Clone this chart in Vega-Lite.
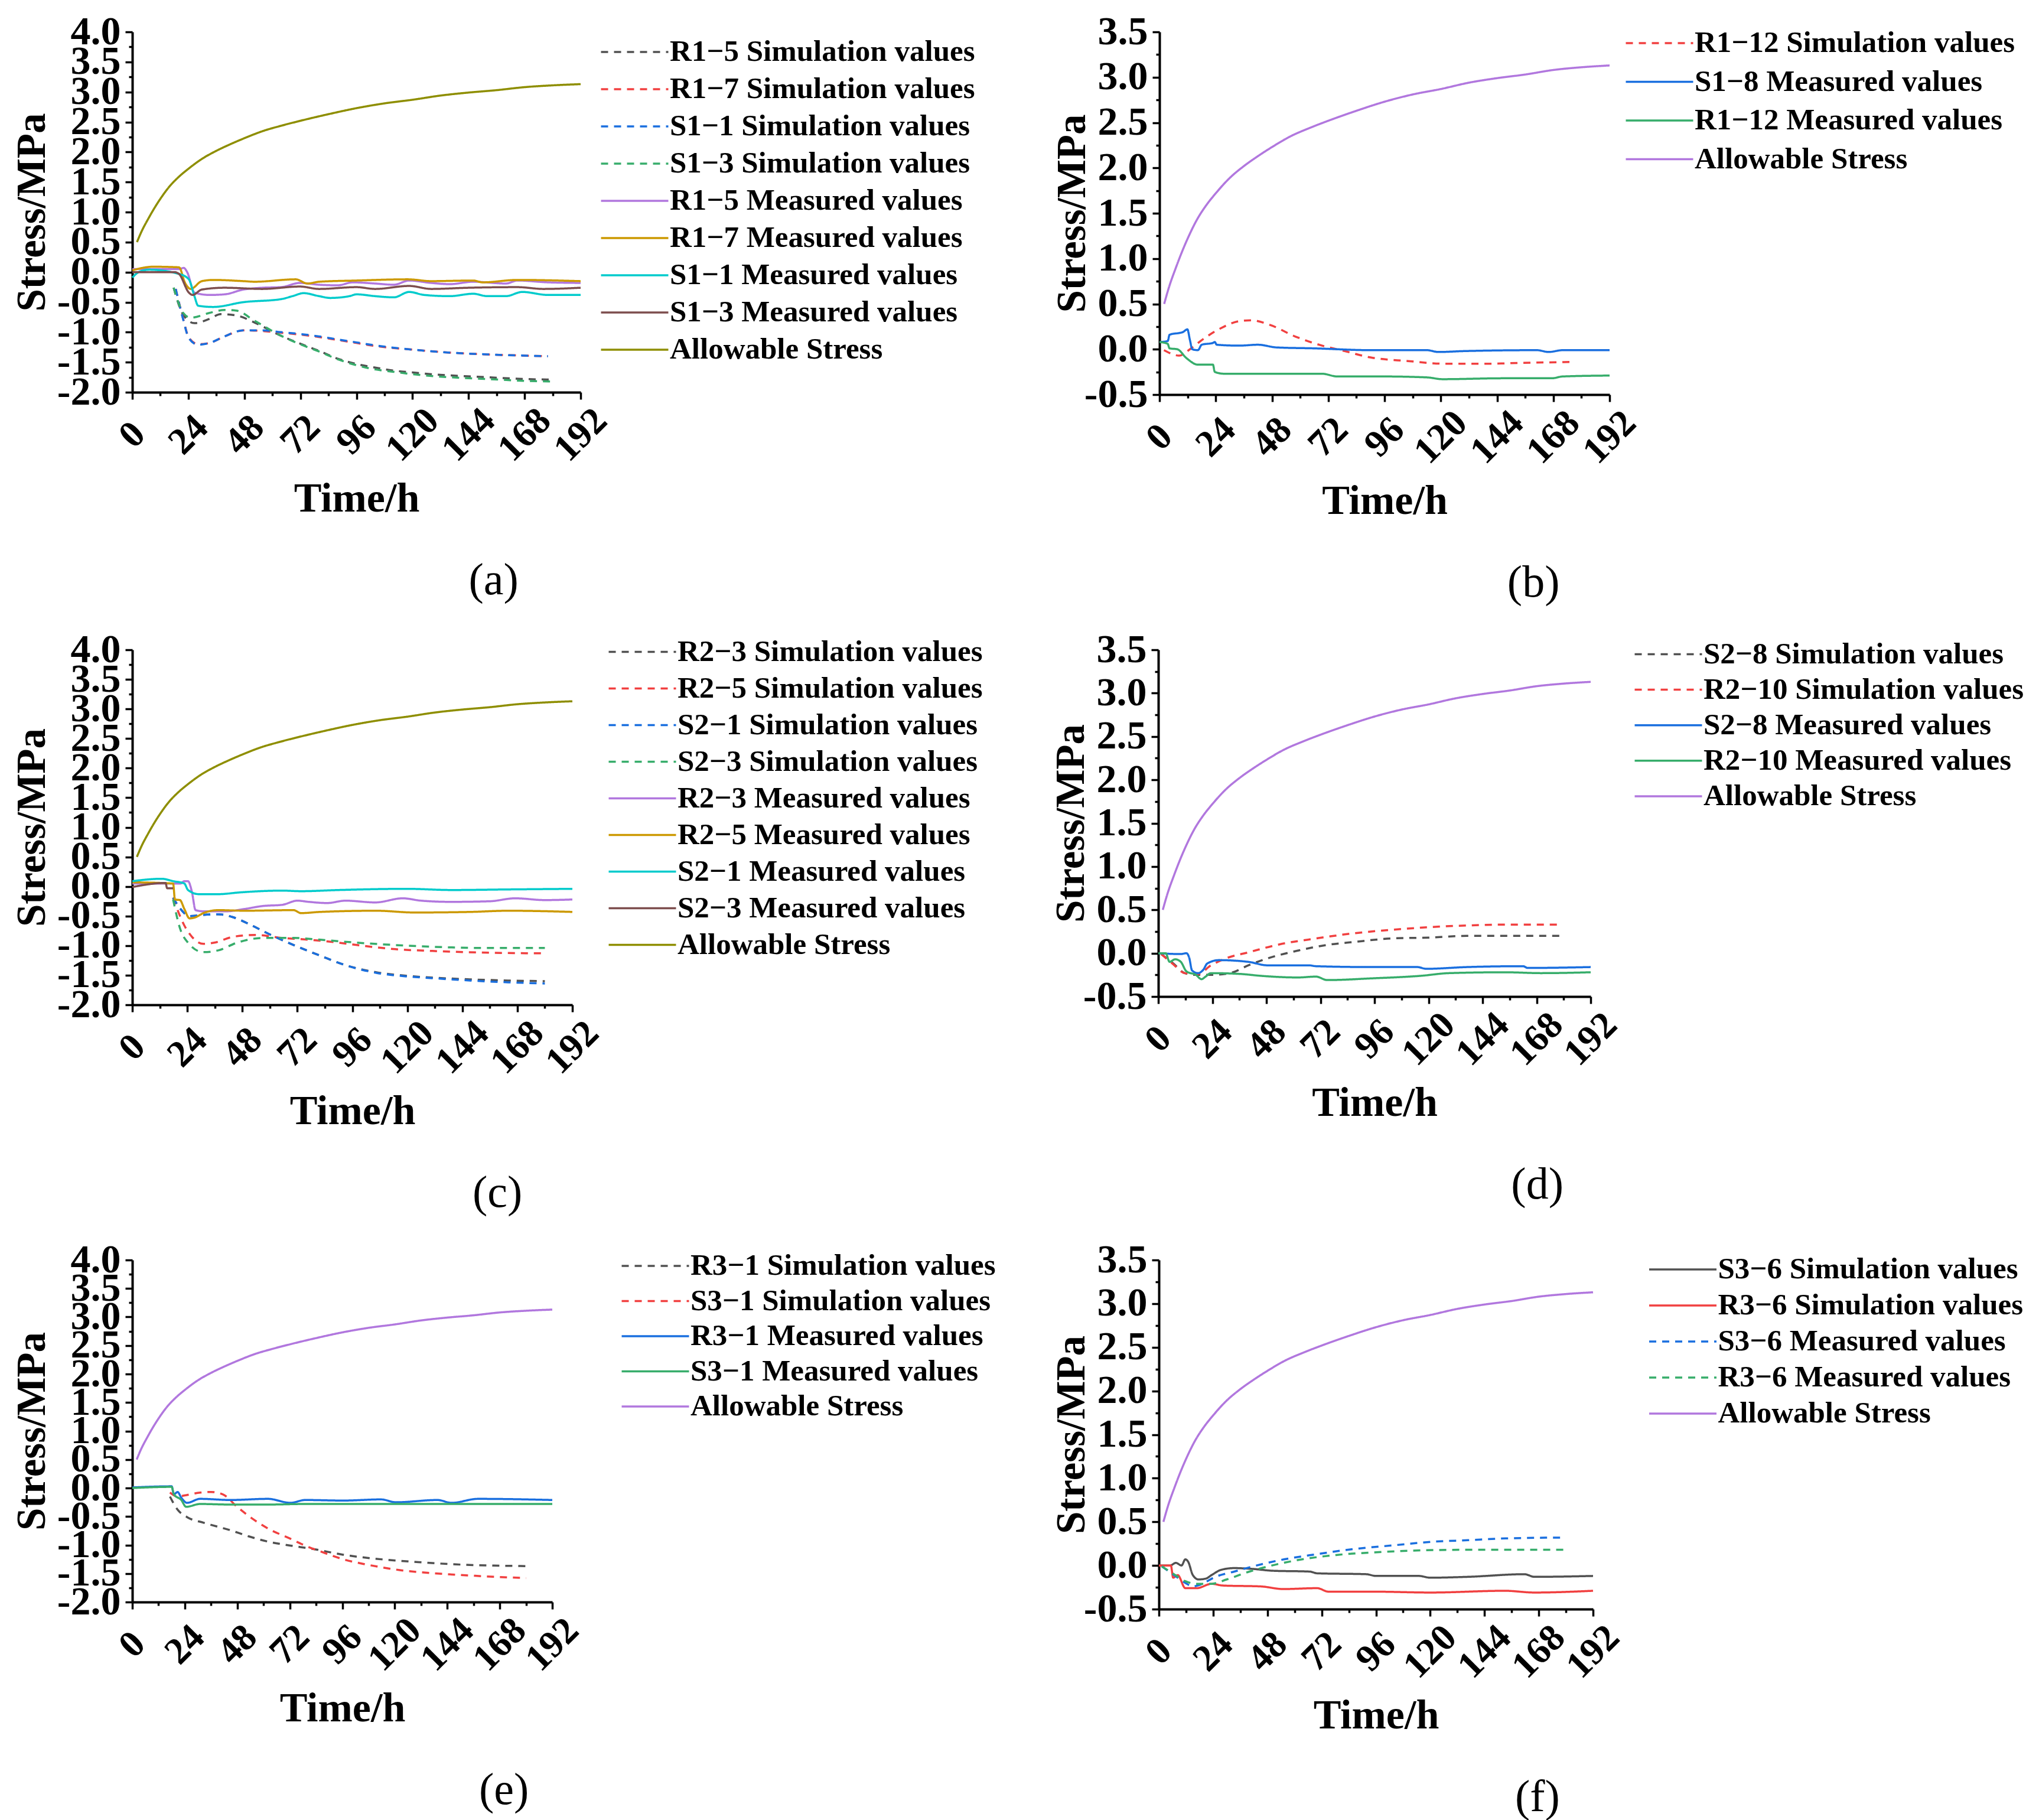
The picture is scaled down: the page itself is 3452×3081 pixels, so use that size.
{
  "$schema": "https://vega.github.io/schema/vega-lite/v6.json",
  "background": "white",
  "padding": {"left": 20, "top": 20, "right": 0, "bottom": 0},
  "datasets": {
    "allow": [
      {"s": "Allowable Stress", "t": 2, "v": 0.5},
      {"s": "Allowable Stress", "t": 4, "v": 0.68},
      {"s": "Allowable Stress", "t": 7, "v": 0.9},
      {"s": "Allowable Stress", "t": 10, "v": 1.1},
      {"s": "Allowable Stress", "t": 12, "v": 1.22},
      {"s": "Allowable Stress", "t": 16, "v": 1.43},
      {"s": "Allowable Stress", "t": 20, "v": 1.59},
      {"s": "Allowable Stress", "t": 24, "v": 1.72},
      {"s": "Allowable Stress", "t": 30, "v": 1.89},
      {"s": "Allowable Stress", "t": 36, "v": 2.02},
      {"s": "Allowable Stress", "t": 42, "v": 2.13},
      {"s": "Allowable Stress", "t": 48, "v": 2.23},
      {"s": "Allowable Stress", "t": 56, "v": 2.35},
      {"s": "Allowable Stress", "t": 64, "v": 2.44},
      {"s": "Allowable Stress", "t": 72, "v": 2.52},
      {"s": "Allowable Stress", "t": 84, "v": 2.63},
      {"s": "Allowable Stress", "t": 96, "v": 2.73},
      {"s": "Allowable Stress", "t": 108, "v": 2.81},
      {"s": "Allowable Stress", "t": 120, "v": 2.87},
      {"s": "Allowable Stress", "t": 132, "v": 2.94},
      {"s": "Allowable Stress", "t": 144, "v": 2.99},
      {"s": "Allowable Stress", "t": 156, "v": 3.03},
      {"s": "Allowable Stress", "t": 168, "v": 3.08},
      {"s": "Allowable Stress", "t": 180, "v": 3.11},
      {"s": "Allowable Stress", "t": 192, "v": 3.13}
    ],
    "a": [
      {"s": "R1−5 Simulation values", "t": 17.7, "v": -0.26},
      {"s": "R1−5 Simulation values", "t": 21.8, "v": -0.71},
      {"s": "R1−5 Simulation values", "t": 26.6, "v": -0.85},
      {"s": "R1−5 Simulation values", "t": 33, "v": -0.78},
      {"s": "R1−5 Simulation values", "t": 37.9, "v": -0.7},
      {"s": "R1−5 Simulation values", "t": 44.4, "v": -0.72},
      {"s": "R1−5 Simulation values", "t": 52.4, "v": -0.84},
      {"s": "R1−5 Simulation values", "t": 63.7, "v": -1.06},
      {"s": "R1−5 Simulation values", "t": 71.8, "v": -1.19},
      {"s": "R1−5 Simulation values", "t": 79.9, "v": -1.31},
      {"s": "R1−5 Simulation values", "t": 87.9, "v": -1.44},
      {"s": "R1−5 Simulation values", "t": 96, "v": -1.53},
      {"s": "R1−5 Simulation values", "t": 104, "v": -1.59},
      {"s": "R1−5 Simulation values", "t": 112, "v": -1.64},
      {"s": "R1−5 Simulation values", "t": 120, "v": -1.67},
      {"s": "R1−5 Simulation values", "t": 128, "v": -1.7},
      {"s": "R1−5 Simulation values", "t": 136, "v": -1.72},
      {"s": "R1−5 Simulation values", "t": 152, "v": -1.75},
      {"s": "R1−5 Simulation values", "t": 168, "v": -1.78},
      {"s": "R1−5 Simulation values", "t": 180, "v": -1.79},
      {"s": "R1−7 Simulation values", "t": 18.6, "v": -0.28},
      {"s": "R1−7 Simulation values", "t": 21.8, "v": -0.78},
      {"s": "R1−7 Simulation values", "t": 24.2, "v": -1.09},
      {"s": "R1−7 Simulation values", "t": 28.2, "v": -1.2},
      {"s": "R1−7 Simulation values", "t": 33, "v": -1.18},
      {"s": "R1−7 Simulation values", "t": 39.5, "v": -1.07},
      {"s": "R1−7 Simulation values", "t": 47.6, "v": -0.97},
      {"s": "R1−7 Simulation values", "t": 55.7, "v": -0.98},
      {"s": "R1−7 Simulation values", "t": 63.7, "v": -1.01},
      {"s": "R1−7 Simulation values", "t": 71.8, "v": -1.04},
      {"s": "R1−7 Simulation values", "t": 79.9, "v": -1.08},
      {"s": "R1−7 Simulation values", "t": 87.9, "v": -1.13},
      {"s": "R1−7 Simulation values", "t": 96, "v": -1.18},
      {"s": "R1−7 Simulation values", "t": 104, "v": -1.23},
      {"s": "R1−7 Simulation values", "t": 120, "v": -1.29},
      {"s": "R1−7 Simulation values", "t": 136, "v": -1.34},
      {"s": "R1−7 Simulation values", "t": 152, "v": -1.37},
      {"s": "R1−7 Simulation values", "t": 178, "v": -1.4},
      {"s": "S1−1 Simulation values", "t": 18.6, "v": -0.28},
      {"s": "S1−1 Simulation values", "t": 21.8, "v": -0.79},
      {"s": "S1−1 Simulation values", "t": 24.2, "v": -1.1},
      {"s": "S1−1 Simulation values", "t": 28.2, "v": -1.21},
      {"s": "S1−1 Simulation values", "t": 33, "v": -1.18},
      {"s": "S1−1 Simulation values", "t": 39.5, "v": -1.07},
      {"s": "S1−1 Simulation values", "t": 47.6, "v": -0.97},
      {"s": "S1−1 Simulation values", "t": 55.7, "v": -0.97},
      {"s": "S1−1 Simulation values", "t": 63.7, "v": -1.0},
      {"s": "S1−1 Simulation values", "t": 71.8, "v": -1.03},
      {"s": "S1−1 Simulation values", "t": 79.9, "v": -1.07},
      {"s": "S1−1 Simulation values", "t": 87.9, "v": -1.12},
      {"s": "S1−1 Simulation values", "t": 96, "v": -1.17},
      {"s": "S1−1 Simulation values", "t": 104, "v": -1.22},
      {"s": "S1−1 Simulation values", "t": 120, "v": -1.29},
      {"s": "S1−1 Simulation values", "t": 136, "v": -1.34},
      {"s": "S1−1 Simulation values", "t": 152, "v": -1.37},
      {"s": "S1−1 Simulation values", "t": 178, "v": -1.4},
      {"s": "S1−3 Simulation values", "t": 17.7, "v": -0.26},
      {"s": "S1−3 Simulation values", "t": 21.8, "v": -0.68},
      {"s": "S1−3 Simulation values", "t": 25, "v": -0.76},
      {"s": "S1−3 Simulation values", "t": 33, "v": -0.68},
      {"s": "S1−3 Simulation values", "t": 39.5, "v": -0.63},
      {"s": "S1−3 Simulation values", "t": 44.4, "v": -0.64},
      {"s": "S1−3 Simulation values", "t": 52.4, "v": -0.81},
      {"s": "S1−3 Simulation values", "t": 63.7, "v": -1.06},
      {"s": "S1−3 Simulation values", "t": 71.8, "v": -1.2},
      {"s": "S1−3 Simulation values", "t": 79.9, "v": -1.32},
      {"s": "S1−3 Simulation values", "t": 87.9, "v": -1.45},
      {"s": "S1−3 Simulation values", "t": 96, "v": -1.55},
      {"s": "S1−3 Simulation values", "t": 104, "v": -1.62},
      {"s": "S1−3 Simulation values", "t": 112, "v": -1.66},
      {"s": "S1−3 Simulation values", "t": 120, "v": -1.7},
      {"s": "S1−3 Simulation values", "t": 136, "v": -1.75},
      {"s": "S1−3 Simulation values", "t": 152, "v": -1.78},
      {"s": "S1−3 Simulation values", "t": 168, "v": -1.81},
      {"s": "S1−3 Simulation values", "t": 180, "v": -1.82},
      {"s": "R1−5 Measured values", "t": 0, "v": 0.05},
      {"s": "R1−5 Measured values", "t": 10, "v": 0.05},
      {"s": "R1−5 Measured values", "t": 20, "v": 0.05},
      {"s": "R1−5 Measured values", "t": 22, "v": 0.07},
      {"s": "R1−5 Measured values", "t": 23.5, "v": 0.0},
      {"s": "R1−5 Measured values", "t": 26.6, "v": -0.34},
      {"s": "R1−5 Measured values", "t": 33, "v": -0.38},
      {"s": "R1−5 Measured values", "t": 39.5, "v": -0.37},
      {"s": "R1−5 Measured values", "t": 47.6, "v": -0.29},
      {"s": "R1−5 Measured values", "t": 55.7, "v": -0.26},
      {"s": "R1−5 Measured values", "t": 63.7, "v": -0.25},
      {"s": "R1−5 Measured values", "t": 71.8, "v": -0.18},
      {"s": "R1−5 Measured values", "t": 80, "v": -0.21},
      {"s": "R1−5 Measured values", "t": 88, "v": -0.22},
      {"s": "R1−5 Measured values", "t": 94.4, "v": -0.17},
      {"s": "R1−5 Measured values", "t": 104, "v": -0.19},
      {"s": "R1−5 Measured values", "t": 112, "v": -0.21},
      {"s": "R1−5 Measured values", "t": 118.6, "v": -0.14},
      {"s": "R1−5 Measured values", "t": 128, "v": -0.18},
      {"s": "R1−5 Measured values", "t": 136, "v": -0.2},
      {"s": "R1−5 Measured values", "t": 146, "v": -0.16},
      {"s": "R1−5 Measured values", "t": 160, "v": -0.19},
      {"s": "R1−5 Measured values", "t": 165, "v": -0.14},
      {"s": "R1−5 Measured values", "t": 178, "v": -0.17},
      {"s": "R1−5 Measured values", "t": 192, "v": -0.18},
      {"s": "R1−7 Measured values", "t": 0, "v": 0.03},
      {"s": "R1−7 Measured values", "t": 8.9, "v": 0.09},
      {"s": "R1−7 Measured values", "t": 20, "v": 0.08},
      {"s": "R1−7 Measured values", "t": 22.6, "v": -0.18},
      {"s": "R1−7 Measured values", "t": 25, "v": -0.28},
      {"s": "R1−7 Measured values", "t": 29.8, "v": -0.15},
      {"s": "R1−7 Measured values", "t": 34.7, "v": -0.13},
      {"s": "R1−7 Measured values", "t": 47.6, "v": -0.15},
      {"s": "R1−7 Measured values", "t": 52.4, "v": -0.16},
      {"s": "R1−7 Measured values", "t": 70, "v": -0.12},
      {"s": "R1−7 Measured values", "t": 75, "v": -0.19},
      {"s": "R1−7 Measured values", "t": 80, "v": -0.16},
      {"s": "R1−7 Measured values", "t": 96, "v": -0.14},
      {"s": "R1−7 Measured values", "t": 118, "v": -0.12},
      {"s": "R1−7 Measured values", "t": 128, "v": -0.15},
      {"s": "R1−7 Measured values", "t": 146, "v": -0.14},
      {"s": "R1−7 Measured values", "t": 150, "v": -0.17},
      {"s": "R1−7 Measured values", "t": 165, "v": -0.13},
      {"s": "R1−7 Measured values", "t": 192, "v": -0.15},
      {"s": "S1−1 Measured values", "t": 0, "v": -0.09},
      {"s": "S1−1 Measured values", "t": 3.2, "v": 0.01},
      {"s": "S1−1 Measured values", "t": 7.3, "v": 0.04},
      {"s": "S1−1 Measured values", "t": 20, "v": -0.03},
      {"s": "S1−1 Measured values", "t": 24.2, "v": -0.12},
      {"s": "S1−1 Measured values", "t": 26.6, "v": -0.4},
      {"s": "S1−1 Measured values", "t": 28.2, "v": -0.56},
      {"s": "S1−1 Measured values", "t": 34.7, "v": -0.58},
      {"s": "S1−1 Measured values", "t": 47.6, "v": -0.5},
      {"s": "S1−1 Measured values", "t": 63.7, "v": -0.45},
      {"s": "S1−1 Measured values", "t": 68.6, "v": -0.4},
      {"s": "S1−1 Measured values", "t": 73.4, "v": -0.35},
      {"s": "S1−1 Measured values", "t": 80, "v": -0.4},
      {"s": "S1−1 Measured values", "t": 84.7, "v": -0.43},
      {"s": "S1−1 Measured values", "t": 93, "v": -0.4},
      {"s": "S1−1 Measured values", "t": 96, "v": -0.37},
      {"s": "S1−1 Measured values", "t": 104, "v": -0.4},
      {"s": "S1−1 Measured values", "t": 112, "v": -0.42},
      {"s": "S1−1 Measured values", "t": 118.6, "v": -0.33},
      {"s": "S1−1 Measured values", "t": 125, "v": -0.38},
      {"s": "S1−1 Measured values", "t": 136, "v": -0.4},
      {"s": "S1−1 Measured values", "t": 146, "v": -0.36},
      {"s": "S1−1 Measured values", "t": 152, "v": -0.4},
      {"s": "S1−1 Measured values", "t": 160, "v": -0.4},
      {"s": "S1−1 Measured values", "t": 167, "v": -0.33},
      {"s": "S1−1 Measured values", "t": 178, "v": -0.38},
      {"s": "S1−1 Measured values", "t": 192, "v": -0.38},
      {"s": "S1−3 Measured values", "t": 0, "v": 0.0},
      {"s": "S1−3 Measured values", "t": 18, "v": 0.0},
      {"s": "S1−3 Measured values", "t": 20, "v": -0.03},
      {"s": "S1−3 Measured values", "t": 24.2, "v": -0.34},
      {"s": "S1−3 Measured values", "t": 25.8, "v": -0.38},
      {"s": "S1−3 Measured values", "t": 29.8, "v": -0.29},
      {"s": "S1−3 Measured values", "t": 39.5, "v": -0.26},
      {"s": "S1−3 Measured values", "t": 55.7, "v": -0.28},
      {"s": "S1−3 Measured values", "t": 71.8, "v": -0.24},
      {"s": "S1−3 Measured values", "t": 80, "v": -0.28},
      {"s": "S1−3 Measured values", "t": 96, "v": -0.25},
      {"s": "S1−3 Measured values", "t": 104, "v": -0.28},
      {"s": "S1−3 Measured values", "t": 118.6, "v": -0.23},
      {"s": "S1−3 Measured values", "t": 128, "v": -0.28},
      {"s": "S1−3 Measured values", "t": 144, "v": -0.26},
      {"s": "S1−3 Measured values", "t": 165, "v": -0.25},
      {"s": "S1−3 Measured values", "t": 176, "v": -0.28},
      {"s": "S1−3 Measured values", "t": 192, "v": -0.26}
    ],
    "b": [
      {"s": "R1−12 Simulation values", "t": 1.9, "v": -0.01},
      {"s": "R1−12 Simulation values", "t": 8.4, "v": -0.07},
      {"s": "R1−12 Simulation values", "t": 13, "v": 0.0},
      {"s": "R1−12 Simulation values", "t": 18, "v": 0.1},
      {"s": "R1−12 Simulation values", "t": 26, "v": 0.23},
      {"s": "R1−12 Simulation values", "t": 34, "v": 0.31},
      {"s": "R1−12 Simulation values", "t": 38.9, "v": 0.32},
      {"s": "R1−12 Simulation values", "t": 47, "v": 0.27},
      {"s": "R1−12 Simulation values", "t": 58, "v": 0.14},
      {"s": "R1−12 Simulation values", "t": 69.4, "v": 0.04},
      {"s": "R1−12 Simulation values", "t": 79, "v": -0.02},
      {"s": "R1−12 Simulation values", "t": 90, "v": -0.09},
      {"s": "R1−12 Simulation values", "t": 106, "v": -0.13},
      {"s": "R1−12 Simulation values", "t": 122, "v": -0.16},
      {"s": "R1−12 Simulation values", "t": 138.5, "v": -0.16},
      {"s": "R1−12 Simulation values", "t": 154.6, "v": -0.15},
      {"s": "R1−12 Simulation values", "t": 177, "v": -0.14},
      {"s": "S1−8 Measured values", "t": 0, "v": 0.08},
      {"s": "S1−8 Measured values", "t": 3.5, "v": 0.09},
      {"s": "S1−8 Measured values", "t": 4.3, "v": 0.16},
      {"s": "S1−8 Measured values", "t": 10, "v": 0.19},
      {"s": "S1−8 Measured values", "t": 11.9, "v": 0.22},
      {"s": "S1−8 Measured values", "t": 13, "v": 0.1},
      {"s": "S1−8 Measured values", "t": 14, "v": 0.0},
      {"s": "S1−8 Measured values", "t": 16.4, "v": -0.01},
      {"s": "S1−8 Measured values", "t": 18, "v": 0.05},
      {"s": "S1−8 Measured values", "t": 22.8, "v": 0.07},
      {"s": "S1−8 Measured values", "t": 23.6, "v": 0.08},
      {"s": "S1−8 Measured values", "t": 24.4, "v": 0.05},
      {"s": "S1−8 Measured values", "t": 34, "v": 0.04},
      {"s": "S1−8 Measured values", "t": 42, "v": 0.05},
      {"s": "S1−8 Measured values", "t": 50, "v": 0.02},
      {"s": "S1−8 Measured values", "t": 66, "v": 0.01},
      {"s": "S1−8 Measured values", "t": 90, "v": -0.01},
      {"s": "S1−8 Measured values", "t": 114, "v": -0.01},
      {"s": "S1−8 Measured values", "t": 119, "v": -0.03},
      {"s": "S1−8 Measured values", "t": 130, "v": -0.02},
      {"s": "S1−8 Measured values", "t": 161, "v": -0.01},
      {"s": "S1−8 Measured values", "t": 166, "v": -0.03},
      {"s": "S1−8 Measured values", "t": 172, "v": -0.01},
      {"s": "S1−8 Measured values", "t": 192, "v": -0.01},
      {"s": "R1−12 Measured values", "t": 0, "v": 0.08},
      {"s": "R1−12 Measured values", "t": 3.5, "v": 0.06},
      {"s": "R1−12 Measured values", "t": 4.3, "v": 0.01},
      {"s": "R1−12 Measured values", "t": 7.6, "v": 0.0},
      {"s": "R1−12 Measured values", "t": 11.6, "v": -0.1},
      {"s": "R1−12 Measured values", "t": 16.4, "v": -0.17},
      {"s": "R1−12 Measured values", "t": 22.8, "v": -0.17},
      {"s": "R1−12 Measured values", "t": 23.6, "v": -0.25},
      {"s": "R1−12 Measured values", "t": 27.6, "v": -0.27},
      {"s": "R1−12 Measured values", "t": 45, "v": -0.27},
      {"s": "R1−12 Measured values", "t": 69.4, "v": -0.27},
      {"s": "R1−12 Measured values", "t": 75.8, "v": -0.3},
      {"s": "R1−12 Measured values", "t": 95, "v": -0.3},
      {"s": "R1−12 Measured values", "t": 114, "v": -0.31},
      {"s": "R1−12 Measured values", "t": 120.8, "v": -0.33},
      {"s": "R1−12 Measured values", "t": 146.5, "v": -0.32},
      {"s": "R1−12 Measured values", "t": 167.4, "v": -0.32},
      {"s": "R1−12 Measured values", "t": 172, "v": -0.3},
      {"s": "R1−12 Measured values", "t": 192, "v": -0.29}
    ],
    "c": [
      {"s": "R2−3 Simulation values", "t": 17.8, "v": -0.19},
      {"s": "R2−3 Simulation values", "t": 21, "v": -0.38},
      {"s": "R2−3 Simulation values", "t": 25, "v": -0.5},
      {"s": "R2−3 Simulation values", "t": 31, "v": -0.48},
      {"s": "R2−3 Simulation values", "t": 37.5, "v": -0.47},
      {"s": "R2−3 Simulation values", "t": 44, "v": -0.52},
      {"s": "R2−3 Simulation values", "t": 50.6, "v": -0.63},
      {"s": "R2−3 Simulation values", "t": 60.5, "v": -0.82},
      {"s": "R2−3 Simulation values", "t": 70.4, "v": -0.99},
      {"s": "R2−3 Simulation values", "t": 82, "v": -1.17},
      {"s": "R2−3 Simulation values", "t": 93, "v": -1.33},
      {"s": "R2−3 Simulation values", "t": 106.5, "v": -1.45},
      {"s": "R2−3 Simulation values", "t": 119.7, "v": -1.51},
      {"s": "R2−3 Simulation values", "t": 131, "v": -1.54},
      {"s": "R2−3 Simulation values", "t": 147.6, "v": -1.57},
      {"s": "R2−3 Simulation values", "t": 164, "v": -1.59},
      {"s": "R2−3 Simulation values", "t": 180, "v": -1.6},
      {"s": "R2−5 Simulation values", "t": 17.8, "v": -0.19},
      {"s": "R2−5 Simulation values", "t": 22.7, "v": -0.66},
      {"s": "R2−5 Simulation values", "t": 26, "v": -0.85},
      {"s": "R2−5 Simulation values", "t": 31, "v": -0.97},
      {"s": "R2−5 Simulation values", "t": 35.8, "v": -0.95},
      {"s": "R2−5 Simulation values", "t": 44, "v": -0.85},
      {"s": "R2−5 Simulation values", "t": 54, "v": -0.82},
      {"s": "R2−5 Simulation values", "t": 65.4, "v": -0.87},
      {"s": "R2−5 Simulation values", "t": 77, "v": -0.9},
      {"s": "R2−5 Simulation values", "t": 90, "v": -0.95},
      {"s": "R2−5 Simulation values", "t": 98, "v": -0.99},
      {"s": "R2−5 Simulation values", "t": 114.7, "v": -1.06},
      {"s": "R2−5 Simulation values", "t": 131, "v": -1.09},
      {"s": "R2−5 Simulation values", "t": 156, "v": -1.12},
      {"s": "R2−5 Simulation values", "t": 180, "v": -1.13},
      {"s": "S2−1 Simulation values", "t": 17.8, "v": -0.19},
      {"s": "S2−1 Simulation values", "t": 21, "v": -0.38},
      {"s": "S2−1 Simulation values", "t": 25, "v": -0.5},
      {"s": "S2−1 Simulation values", "t": 31, "v": -0.48},
      {"s": "S2−1 Simulation values", "t": 37.5, "v": -0.47},
      {"s": "S2−1 Simulation values", "t": 44, "v": -0.52},
      {"s": "S2−1 Simulation values", "t": 50.6, "v": -0.63},
      {"s": "S2−1 Simulation values", "t": 60.5, "v": -0.82},
      {"s": "S2−1 Simulation values", "t": 70.4, "v": -0.99},
      {"s": "S2−1 Simulation values", "t": 82, "v": -1.17},
      {"s": "S2−1 Simulation values", "t": 93, "v": -1.33},
      {"s": "S2−1 Simulation values", "t": 106.5, "v": -1.46},
      {"s": "S2−1 Simulation values", "t": 119.7, "v": -1.52},
      {"s": "S2−1 Simulation values", "t": 131, "v": -1.55},
      {"s": "S2−1 Simulation values", "t": 147.6, "v": -1.59},
      {"s": "S2−1 Simulation values", "t": 164, "v": -1.62},
      {"s": "S2−1 Simulation values", "t": 180, "v": -1.64},
      {"s": "S2−3 Simulation values", "t": 17.8, "v": -0.22},
      {"s": "S2−3 Simulation values", "t": 21, "v": -0.73},
      {"s": "S2−3 Simulation values", "t": 24.3, "v": -0.95},
      {"s": "S2−3 Simulation values", "t": 31, "v": -1.11},
      {"s": "S2−3 Simulation values", "t": 37.5, "v": -1.08},
      {"s": "S2−3 Simulation values", "t": 45.7, "v": -0.95},
      {"s": "S2−3 Simulation values", "t": 57, "v": -0.87},
      {"s": "S2−3 Simulation values", "t": 70.4, "v": -0.87},
      {"s": "S2−3 Simulation values", "t": 82, "v": -0.9},
      {"s": "S2−3 Simulation values", "t": 98, "v": -0.95},
      {"s": "S2−3 Simulation values", "t": 114.7, "v": -0.99},
      {"s": "S2−3 Simulation values", "t": 139.4, "v": -1.03},
      {"s": "S2−3 Simulation values", "t": 156, "v": -1.04},
      {"s": "S2−3 Simulation values", "t": 180, "v": -1.04},
      {"s": "R2−3 Measured values", "t": 0, "v": 0.05},
      {"s": "R2−3 Measured values", "t": 21, "v": 0.05},
      {"s": "R2−3 Measured values", "t": 22.7, "v": 0.09},
      {"s": "R2−3 Measured values", "t": 24.3, "v": 0.09},
      {"s": "R2−3 Measured values", "t": 26, "v": -0.09},
      {"s": "R2−3 Measured values", "t": 27.6, "v": -0.4},
      {"s": "R2−3 Measured values", "t": 31, "v": -0.42},
      {"s": "R2−3 Measured values", "t": 41, "v": -0.42},
      {"s": "R2−3 Measured values", "t": 49, "v": -0.38},
      {"s": "R2−3 Measured values", "t": 57, "v": -0.33},
      {"s": "R2−3 Measured values", "t": 65.4, "v": -0.31},
      {"s": "R2−3 Measured values", "t": 72, "v": -0.24},
      {"s": "R2−3 Measured values", "t": 77, "v": -0.26},
      {"s": "R2−3 Measured values", "t": 85, "v": -0.28},
      {"s": "R2−3 Measured values", "t": 93, "v": -0.24},
      {"s": "R2−3 Measured values", "t": 106, "v": -0.27},
      {"s": "R2−3 Measured values", "t": 118, "v": -0.2},
      {"s": "R2−3 Measured values", "t": 126, "v": -0.24},
      {"s": "R2−3 Measured values", "t": 139, "v": -0.26},
      {"s": "R2−3 Measured values", "t": 156, "v": -0.25},
      {"s": "R2−3 Measured values", "t": 167, "v": -0.2},
      {"s": "R2−3 Measured values", "t": 180, "v": -0.23},
      {"s": "R2−3 Measured values", "t": 192, "v": -0.22},
      {"s": "R2−5 Measured values", "t": 0, "v": 0.07},
      {"s": "R2−5 Measured values", "t": 17.8, "v": 0.05},
      {"s": "R2−5 Measured values", "t": 18.6, "v": -0.22},
      {"s": "R2−5 Measured values", "t": 20.8, "v": -0.23},
      {"s": "R2−5 Measured values", "t": 22.7, "v": -0.38},
      {"s": "R2−5 Measured values", "t": 25, "v": -0.54},
      {"s": "R2−5 Measured values", "t": 27.6, "v": -0.52},
      {"s": "R2−5 Measured values", "t": 31, "v": -0.45},
      {"s": "R2−5 Measured values", "t": 37.5, "v": -0.4},
      {"s": "R2−5 Measured values", "t": 49, "v": -0.41},
      {"s": "R2−5 Measured values", "t": 70.4, "v": -0.4},
      {"s": "R2−5 Measured values", "t": 73.6, "v": -0.45},
      {"s": "R2−5 Measured values", "t": 82, "v": -0.43},
      {"s": "R2−5 Measured values", "t": 106.5, "v": -0.41},
      {"s": "R2−5 Measured values", "t": 123, "v": -0.44},
      {"s": "R2−5 Measured values", "t": 147.6, "v": -0.43},
      {"s": "R2−5 Measured values", "t": 164, "v": -0.41},
      {"s": "R2−5 Measured values", "t": 192, "v": -0.43},
      {"s": "S2−1 Measured values", "t": 0, "v": 0.09},
      {"s": "S2−1 Measured values", "t": 12.8, "v": 0.13},
      {"s": "S2−1 Measured values", "t": 17.8, "v": 0.09},
      {"s": "S2−1 Measured values", "t": 22.7, "v": 0.05},
      {"s": "S2−1 Measured values", "t": 24.3, "v": -0.06},
      {"s": "S2−1 Measured values", "t": 29, "v": -0.13},
      {"s": "S2−1 Measured values", "t": 37.5, "v": -0.13},
      {"s": "S2−1 Measured values", "t": 47, "v": -0.1},
      {"s": "S2−1 Measured values", "t": 65.4, "v": -0.07},
      {"s": "S2−1 Measured values", "t": 73.6, "v": -0.08},
      {"s": "S2−1 Measured values", "t": 90, "v": -0.06},
      {"s": "S2−1 Measured values", "t": 119.7, "v": -0.04},
      {"s": "S2−1 Measured values", "t": 139.4, "v": -0.06},
      {"s": "S2−1 Measured values", "t": 164, "v": -0.05},
      {"s": "S2−1 Measured values", "t": 192, "v": -0.04},
      {"s": "S2−3 Measured values", "t": 0, "v": -0.01},
      {"s": "S2−3 Measured values", "t": 14.5, "v": 0.06},
      {"s": "S2−3 Measured values", "t": 15.2, "v": -0.03},
      {"s": "S2−3 Measured values", "t": 17.8, "v": -0.03}
    ],
    "d": [
      {"s": "S2−8 Simulation values", "t": 1.3, "v": -0.01},
      {"s": "S2−8 Simulation values", "t": 6.7, "v": -0.12},
      {"s": "S2−8 Simulation values", "t": 11.7, "v": -0.23},
      {"s": "S2−8 Simulation values", "t": 16.7, "v": -0.25},
      {"s": "S2−8 Simulation values", "t": 23.4, "v": -0.25},
      {"s": "S2−8 Simulation values", "t": 31.8, "v": -0.23},
      {"s": "S2−8 Simulation values", "t": 40, "v": -0.14},
      {"s": "S2−8 Simulation values", "t": 48.5, "v": -0.06},
      {"s": "S2−8 Simulation values", "t": 62, "v": 0.03},
      {"s": "S2−8 Simulation values", "t": 73.6, "v": 0.09},
      {"s": "S2−8 Simulation values", "t": 87, "v": 0.13},
      {"s": "S2−8 Simulation values", "t": 103.7, "v": 0.17},
      {"s": "S2−8 Simulation values", "t": 120, "v": 0.18},
      {"s": "S2−8 Simulation values", "t": 137, "v": 0.2},
      {"s": "S2−8 Simulation values", "t": 154, "v": 0.2},
      {"s": "S2−8 Simulation values", "t": 179, "v": 0.2},
      {"s": "R2−10 Simulation values", "t": 1.3, "v": -0.01},
      {"s": "R2−10 Simulation values", "t": 6.7, "v": -0.13},
      {"s": "R2−10 Simulation values", "t": 11.7, "v": -0.23},
      {"s": "R2−10 Simulation values", "t": 17.6, "v": -0.24},
      {"s": "R2−10 Simulation values", "t": 23.4, "v": -0.14},
      {"s": "R2−10 Simulation values", "t": 30, "v": -0.06},
      {"s": "R2−10 Simulation values", "t": 40, "v": 0.01},
      {"s": "R2−10 Simulation values", "t": 53.5, "v": 0.1},
      {"s": "R2−10 Simulation values", "t": 70, "v": 0.17},
      {"s": "R2−10 Simulation values", "t": 87, "v": 0.23},
      {"s": "R2−10 Simulation values", "t": 103.7, "v": 0.27},
      {"s": "R2−10 Simulation values", "t": 120, "v": 0.3},
      {"s": "R2−10 Simulation values", "t": 137, "v": 0.32},
      {"s": "R2−10 Simulation values", "t": 154, "v": 0.33},
      {"s": "R2−10 Simulation values", "t": 179, "v": 0.33},
      {"s": "S2−8 Measured values", "t": 0, "v": 0.0},
      {"s": "S2−8 Measured values", "t": 10, "v": -0.01},
      {"s": "S2−8 Measured values", "t": 12.5, "v": 0.0},
      {"s": "S2−8 Measured values", "t": 13.7, "v": -0.05},
      {"s": "S2−8 Measured values", "t": 15, "v": -0.2},
      {"s": "S2−8 Measured values", "t": 17.6, "v": -0.23},
      {"s": "S2−8 Measured values", "t": 20, "v": -0.19},
      {"s": "S2−8 Measured values", "t": 21.7, "v": -0.12},
      {"s": "S2−8 Measured values", "t": 26.8, "v": -0.08},
      {"s": "S2−8 Measured values", "t": 40, "v": -0.1},
      {"s": "S2−8 Measured values", "t": 48.5, "v": -0.14},
      {"s": "S2−8 Measured values", "t": 67, "v": -0.14},
      {"s": "S2−8 Measured values", "t": 70, "v": -0.15},
      {"s": "S2−8 Measured values", "t": 95, "v": -0.16},
      {"s": "S2−8 Measured values", "t": 115, "v": -0.16},
      {"s": "S2−8 Measured values", "t": 119, "v": -0.18},
      {"s": "S2−8 Measured values", "t": 137, "v": -0.16},
      {"s": "S2−8 Measured values", "t": 162, "v": -0.15},
      {"s": "S2−8 Measured values", "t": 164, "v": -0.17},
      {"s": "S2−8 Measured values", "t": 192, "v": -0.16},
      {"s": "R2−10 Measured values", "t": 0, "v": 0.0},
      {"s": "R2−10 Measured values", "t": 3.3, "v": 0.0},
      {"s": "R2−10 Measured values", "t": 5, "v": -0.1},
      {"s": "R2−10 Measured values", "t": 7.5, "v": -0.07},
      {"s": "R2−10 Measured values", "t": 10, "v": -0.1},
      {"s": "R2−10 Measured values", "t": 12.5, "v": -0.21},
      {"s": "R2−10 Measured values", "t": 16.7, "v": -0.25},
      {"s": "R2−10 Measured values", "t": 19.2, "v": -0.3},
      {"s": "R2−10 Measured values", "t": 21, "v": -0.27},
      {"s": "R2−10 Measured values", "t": 23.4, "v": -0.23},
      {"s": "R2−10 Measured values", "t": 36.8, "v": -0.24},
      {"s": "R2−10 Measured values", "t": 45, "v": -0.26},
      {"s": "R2−10 Measured values", "t": 62, "v": -0.28},
      {"s": "R2−10 Measured values", "t": 70, "v": -0.27},
      {"s": "R2−10 Measured values", "t": 75, "v": -0.31},
      {"s": "R2−10 Measured values", "t": 95, "v": -0.29},
      {"s": "R2−10 Measured values", "t": 117, "v": -0.26},
      {"s": "R2−10 Measured values", "t": 129, "v": -0.23},
      {"s": "R2−10 Measured values", "t": 154, "v": -0.22},
      {"s": "R2−10 Measured values", "t": 170, "v": -0.23},
      {"s": "R2−10 Measured values", "t": 192, "v": -0.22}
    ],
    "e": [
      {"s": "R3−1 Simulation values", "t": 17.2, "v": -0.15},
      {"s": "R3−1 Simulation values", "t": 20.7, "v": -0.38},
      {"s": "R3−1 Simulation values", "t": 25, "v": -0.51},
      {"s": "R3−1 Simulation values", "t": 32.7, "v": -0.61},
      {"s": "R3−1 Simulation values", "t": 44.8, "v": -0.74},
      {"s": "R3−1 Simulation values", "t": 53.4, "v": -0.85},
      {"s": "R3−1 Simulation values", "t": 62, "v": -0.94},
      {"s": "R3−1 Simulation values", "t": 72.3, "v": -1.01},
      {"s": "R3−1 Simulation values", "t": 82.7, "v": -1.07},
      {"s": "R3−1 Simulation values", "t": 96.4, "v": -1.17},
      {"s": "R3−1 Simulation values", "t": 113.7, "v": -1.25},
      {"s": "R3−1 Simulation values", "t": 130.9, "v": -1.3},
      {"s": "R3−1 Simulation values", "t": 148, "v": -1.34},
      {"s": "R3−1 Simulation values", "t": 165.3, "v": -1.36},
      {"s": "R3−1 Simulation values", "t": 180, "v": -1.37},
      {"s": "S3−1 Simulation values", "t": 17.2, "v": -0.08},
      {"s": "S3−1 Simulation values", "t": 20.7, "v": -0.15},
      {"s": "S3−1 Simulation values", "t": 24, "v": -0.13},
      {"s": "S3−1 Simulation values", "t": 31, "v": -0.08},
      {"s": "S3−1 Simulation values", "t": 36, "v": -0.07},
      {"s": "S3−1 Simulation values", "t": 41.3, "v": -0.11},
      {"s": "S3−1 Simulation values", "t": 48.2, "v": -0.34},
      {"s": "S3−1 Simulation values", "t": 55, "v": -0.54},
      {"s": "S3−1 Simulation values", "t": 62, "v": -0.71},
      {"s": "S3−1 Simulation values", "t": 72.3, "v": -0.89},
      {"s": "S3−1 Simulation values", "t": 79, "v": -1.01},
      {"s": "S3−1 Simulation values", "t": 88, "v": -1.14},
      {"s": "S3−1 Simulation values", "t": 96.4, "v": -1.25},
      {"s": "S3−1 Simulation values", "t": 106.8, "v": -1.34},
      {"s": "S3−1 Simulation values", "t": 122.3, "v": -1.44},
      {"s": "S3−1 Simulation values", "t": 139.5, "v": -1.5},
      {"s": "S3−1 Simulation values", "t": 156.7, "v": -1.54},
      {"s": "S3−1 Simulation values", "t": 180, "v": -1.58},
      {"s": "R3−1 Measured values", "t": 0, "v": 0.01},
      {"s": "R3−1 Measured values", "t": 18, "v": 0.03},
      {"s": "R3−1 Measured values", "t": 19, "v": -0.11},
      {"s": "R3−1 Measured values", "t": 20.7, "v": -0.07},
      {"s": "R3−1 Measured values", "t": 22.4, "v": -0.17},
      {"s": "R3−1 Measured values", "t": 25, "v": -0.26},
      {"s": "R3−1 Measured values", "t": 31, "v": -0.19},
      {"s": "R3−1 Measured values", "t": 44.8, "v": -0.21},
      {"s": "R3−1 Measured values", "t": 62, "v": -0.19},
      {"s": "R3−1 Measured values", "t": 72.3, "v": -0.26},
      {"s": "R3−1 Measured values", "t": 79, "v": -0.21},
      {"s": "R3−1 Measured values", "t": 96.4, "v": -0.22},
      {"s": "R3−1 Measured values", "t": 113.7, "v": -0.2},
      {"s": "R3−1 Measured values", "t": 120.5, "v": -0.25},
      {"s": "R3−1 Measured values", "t": 139.5, "v": -0.21},
      {"s": "R3−1 Measured values", "t": 146, "v": -0.26},
      {"s": "R3−1 Measured values", "t": 158, "v": -0.19},
      {"s": "R3−1 Measured values", "t": 192, "v": -0.21},
      {"s": "S3−1 Measured values", "t": 0, "v": 0.0},
      {"s": "S3−1 Measured values", "t": 18, "v": 0.02},
      {"s": "S3−1 Measured values", "t": 19, "v": -0.11},
      {"s": "S3−1 Measured values", "t": 22.4, "v": -0.21},
      {"s": "S3−1 Measured values", "t": 24.6, "v": -0.33},
      {"s": "S3−1 Measured values", "t": 31, "v": -0.28},
      {"s": "S3−1 Measured values", "t": 44.8, "v": -0.29},
      {"s": "S3−1 Measured values", "t": 62, "v": -0.29},
      {"s": "S3−1 Measured values", "t": 79, "v": -0.28},
      {"s": "S3−1 Measured values", "t": 113.7, "v": -0.28},
      {"s": "S3−1 Measured values", "t": 192, "v": -0.28}
    ],
    "f": [
      {"s": "S3−6 Simulation values", "t": 0, "v": 0.0},
      {"s": "S3−6 Simulation values", "t": 5, "v": 0.0},
      {"s": "S3−6 Simulation values", "t": 7.5, "v": 0.03},
      {"s": "S3−6 Simulation values", "t": 10, "v": 0.0},
      {"s": "S3−6 Simulation values", "t": 11.7, "v": 0.07},
      {"s": "S3−6 Simulation values", "t": 13, "v": 0.04},
      {"s": "S3−6 Simulation values", "t": 15, "v": -0.11},
      {"s": "S3−6 Simulation values", "t": 17.5, "v": -0.16},
      {"s": "S3−6 Simulation values", "t": 20.8, "v": -0.15},
      {"s": "S3−6 Simulation values", "t": 23.3, "v": -0.11},
      {"s": "S3−6 Simulation values", "t": 27.5, "v": -0.05},
      {"s": "S3−6 Simulation values", "t": 33.3, "v": -0.03},
      {"s": "S3−6 Simulation values", "t": 41.7, "v": -0.04},
      {"s": "S3−6 Simulation values", "t": 50, "v": -0.06},
      {"s": "S3−6 Simulation values", "t": 66.7, "v": -0.07},
      {"s": "S3−6 Simulation values", "t": 70, "v": -0.09},
      {"s": "S3−6 Simulation values", "t": 91.7, "v": -0.1},
      {"s": "S3−6 Simulation values", "t": 96, "v": -0.12},
      {"s": "S3−6 Simulation values", "t": 115, "v": -0.12},
      {"s": "S3−6 Simulation values", "t": 120, "v": -0.14},
      {"s": "S3−6 Simulation values", "t": 136.7, "v": -0.13},
      {"s": "S3−6 Simulation values", "t": 161.7, "v": -0.1},
      {"s": "S3−6 Simulation values", "t": 166, "v": -0.13},
      {"s": "S3−6 Simulation values", "t": 192, "v": -0.12},
      {"s": "R3−6 Simulation values", "t": 0, "v": 0.0},
      {"s": "R3−6 Simulation values", "t": 4.2, "v": 0.0},
      {"s": "R3−6 Simulation values", "t": 5.3, "v": 0.0},
      {"s": "R3−6 Simulation values", "t": 6.3, "v": -0.14},
      {"s": "R3−6 Simulation values", "t": 8.3, "v": -0.11},
      {"s": "R3−6 Simulation values", "t": 11.7, "v": -0.26},
      {"s": "R3−6 Simulation values", "t": 16.7, "v": -0.26},
      {"s": "R3−6 Simulation values", "t": 23.3, "v": -0.21},
      {"s": "R3−6 Simulation values", "t": 28.3, "v": -0.23},
      {"s": "R3−6 Simulation values", "t": 45, "v": -0.24},
      {"s": "R3−6 Simulation values", "t": 55, "v": -0.27},
      {"s": "R3−6 Simulation values", "t": 70, "v": -0.26},
      {"s": "R3−6 Simulation values", "t": 75, "v": -0.3},
      {"s": "R3−6 Simulation values", "t": 95, "v": -0.3},
      {"s": "R3−6 Simulation values", "t": 120, "v": -0.31},
      {"s": "R3−6 Simulation values", "t": 153, "v": -0.29},
      {"s": "R3−6 Simulation values", "t": 166, "v": -0.31},
      {"s": "R3−6 Simulation values", "t": 192, "v": -0.29},
      {"s": "S3−6 Measured values", "t": 1.3, "v": -0.01},
      {"s": "S3−6 Measured values", "t": 6.7, "v": -0.11},
      {"s": "S3−6 Measured values", "t": 11.7, "v": -0.2},
      {"s": "S3−6 Measured values", "t": 15, "v": -0.24},
      {"s": "S3−6 Measured values", "t": 18.3, "v": -0.22},
      {"s": "S3−6 Measured values", "t": 25, "v": -0.13},
      {"s": "S3−6 Measured values", "t": 33.3, "v": -0.07},
      {"s": "S3−6 Measured values", "t": 41.7, "v": -0.01},
      {"s": "S3−6 Measured values", "t": 53.3, "v": 0.06},
      {"s": "S3−6 Measured values", "t": 70, "v": 0.13},
      {"s": "S3−6 Measured values", "t": 86.7, "v": 0.19},
      {"s": "S3−6 Measured values", "t": 103.3, "v": 0.23},
      {"s": "S3−6 Measured values", "t": 120, "v": 0.27},
      {"s": "S3−6 Measured values", "t": 136.7, "v": 0.29},
      {"s": "S3−6 Measured values", "t": 153.3, "v": 0.31},
      {"s": "S3−6 Measured values", "t": 180, "v": 0.32},
      {"s": "R3−6 Measured values", "t": 1.3, "v": -0.01},
      {"s": "R3−6 Measured values", "t": 6.7, "v": -0.1},
      {"s": "R3−6 Measured values", "t": 11.7, "v": -0.18},
      {"s": "R3−6 Measured values", "t": 16.7, "v": -0.21},
      {"s": "R3−6 Measured values", "t": 23.3, "v": -0.21},
      {"s": "R3−6 Measured values", "t": 30, "v": -0.16},
      {"s": "R3−6 Measured values", "t": 40, "v": -0.07},
      {"s": "R3−6 Measured values", "t": 50, "v": 0.0},
      {"s": "R3−6 Measured values", "t": 63.3, "v": 0.07},
      {"s": "R3−6 Measured values", "t": 78.3, "v": 0.12},
      {"s": "R3−6 Measured values", "t": 95, "v": 0.15},
      {"s": "R3−6 Measured values", "t": 111.7, "v": 0.17},
      {"s": "R3−6 Measured values", "t": 136.7, "v": 0.18},
      {"s": "R3−6 Measured values", "t": 180, "v": 0.18}
    ]
  },
  "vconcat": [
    {
      "spacing": 130,
      "resolve": {"scale": {"color": "independent", "strokeDash": "independent"}, "legend": {"color": "independent", "strokeDash": "independent"}},
      "hconcat": [
        {
          "width": 759, "height": 610,
          "title": {"text": "(a)"},
          "layer": [
            {"data": {"name": "a"}, "mark": {"type": "line", "strokeWidth": 3.5, "interpolate": "monotone"}},
            {"data": {"name": "allow"}, "mark": {"type": "line", "strokeWidth": 3.5, "interpolate": "monotone"}}
          ],
          "encoding": {
            "x": {"field": "t", "type": "quantitative", "scale": {"domain": [0, 192], "nice": false},
              "axis": {"title": "Time/h", "values": [0, 12, 24, 36, 48, 60, 72, 84, 96, 108, 120, 132, 144, 156, 168, 180, 192],
                "labelExpr": "datum.value % 24 === 0 ? datum.label : ''",
                "tickSize": {"condition": {"test": "datum.value % 24 === 0", "value": 12}, "value": 6}}},
            "y": {"field": "v", "type": "quantitative", "scale": {"domain": [-2, 4], "nice": false, "zero": false},
              "axis": {"title": "Stress/MPa", "values": [-2, -1.75, -1.5, -1.25, -1, -0.75, -0.5, -0.25, 0, 0.25, 0.5, 0.75, 1, 1.25, 1.5, 1.75, 2, 2.25, 2.5, 2.75, 3, 3.25, 3.5, 3.75, 4],
                "labelExpr": "round(datum.value * 4) % 2 === 0 ? (datum.value < 0 ? '-' : '') + format(abs(datum.value), '.1f') : ''",
                "tickSize": {"condition": {"test": "round(datum.value * 4) % 2 === 0", "value": 12}, "value": 6}}},
            "color": {"field": "s", "type": "nominal",
              "scale": {"domain": ["R1−5 Simulation values", "R1−7 Simulation values", "S1−1 Simulation values", "S1−3 Simulation values", "R1−5 Measured values", "R1−7 Measured values", "S1−1 Measured values", "S1−3 Measured values", "Allowable Stress"],
                "range": ["#515151", "#F14040", "#1A6FDF", "#37AD6B", "#B177DE", "#CC9900", "#00CBCC", "#7D4E4E", "#8E8E00"]},
              "legend": {"legendX": 825, "legendY": 8.5, "rowPadding": 11}},
            "strokeDash": {"field": "s", "type": "nominal",
              "scale": {"domain": ["R1−5 Simulation values", "R1−7 Simulation values", "S1−1 Simulation values", "S1−3 Simulation values", "R1−5 Measured values", "R1−7 Measured values", "S1−1 Measured values", "S1−3 Measured values", "Allowable Stress"],
                "range": [[12, 10], [12, 10], [12, 10], [12, 10], [1, 0], [1, 0], [1, 0], [1, 0], [1, 0]]},
              "legend": {"legendX": 825, "legendY": 8.5, "rowPadding": 11}}
          }
        },
        {
          "width": 762, "height": 614,
          "title": {"text": "(b)"},
          "layer": [
            {"data": {"name": "b"}, "mark": {"type": "line", "strokeWidth": 3.5, "interpolate": "monotone"}},
            {"data": {"name": "allow"}, "mark": {"type": "line", "strokeWidth": 3.5, "interpolate": "monotone"}}
          ],
          "encoding": {
            "x": {"field": "t", "type": "quantitative", "scale": {"domain": [0, 192], "nice": false},
              "axis": {"title": "Time/h", "values": [0, 12, 24, 36, 48, 60, 72, 84, 96, 108, 120, 132, 144, 156, 168, 180, 192],
                "labelExpr": "datum.value % 24 === 0 ? datum.label : ''",
                "tickSize": {"condition": {"test": "datum.value % 24 === 0", "value": 12}, "value": 6}}},
            "y": {"field": "v", "type": "quantitative", "scale": {"domain": [-0.5, 3.5], "nice": false, "zero": false},
              "axis": {"title": "Stress/MPa", "titlePadding": -15, "values": [-0.5, -0.25, 0, 0.25, 0.5, 0.75, 1, 1.25, 1.5, 1.75, 2, 2.25, 2.5, 2.75, 3, 3.25, 3.5],
                "labelExpr": "round(datum.value * 4) % 2 === 0 ? (datum.value < 0 ? '-' : '') + format(abs(datum.value), '.1f') : ''",
                "tickSize": {"condition": {"test": "round(datum.value * 4) % 2 === 0", "value": 12}, "value": 6}}},
            "color": {"field": "s", "type": "nominal",
              "scale": {"domain": ["R1−12 Simulation values", "S1−8 Measured values", "R1−12 Measured values", "Allowable Stress"],
                "range": ["#F14040", "#1A6FDF", "#37AD6B", "#B177DE"]},
              "legend": {"legendX": 821, "legendY": -6.5, "rowPadding": 13.5}},
            "strokeDash": {"field": "s", "type": "nominal",
              "scale": {"domain": ["R1−12 Simulation values", "S1−8 Measured values", "R1−12 Measured values", "Allowable Stress"],
                "range": [[12, 10], [1, 0], [1, 0], [1, 0]]},
              "legend": {"legendX": 821, "legendY": -6.5, "rowPadding": 13.5}}
          }
        }
      ]
    },
    {
      "spacing": 115,
      "resolve": {"scale": {"color": "independent", "strokeDash": "independent"}, "legend": {"color": "independent", "strokeDash": "independent"}},
      "hconcat": [
        {
          "width": 745, "height": 601,
          "title": {"text": "(c)"},
          "layer": [
            {"data": {"name": "c"}, "mark": {"type": "line", "strokeWidth": 3.5, "interpolate": "monotone"}},
            {"data": {"name": "allow"}, "mark": {"type": "line", "strokeWidth": 3.5, "interpolate": "monotone"}}
          ],
          "encoding": {
            "x": {"field": "t", "type": "quantitative", "scale": {"domain": [0, 192], "nice": false},
              "axis": {"title": "Time/h", "values": [0, 12, 24, 36, 48, 60, 72, 84, 96, 108, 120, 132, 144, 156, 168, 180, 192],
                "labelExpr": "datum.value % 24 === 0 ? datum.label : ''",
                "tickSize": {"condition": {"test": "datum.value % 24 === 0", "value": 12}, "value": 6}}},
            "y": {"field": "v", "type": "quantitative", "scale": {"domain": [-2, 4], "nice": false, "zero": false},
              "axis": {"title": "Stress/MPa", "values": [-2, -1.75, -1.5, -1.25, -1, -0.75, -0.5, -0.25, 0, 0.25, 0.5, 0.75, 1, 1.25, 1.5, 1.75, 2, 2.25, 2.5, 2.75, 3, 3.25, 3.5, 3.75, 4],
                "labelExpr": "round(datum.value * 4) % 2 === 0 ? (datum.value < 0 ? '-' : '') + format(abs(datum.value), '.1f') : ''",
                "tickSize": {"condition": {"test": "round(datum.value * 4) % 2 === 0", "value": 12}, "value": 6}}},
            "color": {"field": "s", "type": "nominal",
              "scale": {"domain": ["R2−3 Simulation values", "R2−5 Simulation values", "S2−1 Simulation values", "S2−3 Simulation values", "R2−3 Measured values", "R2−5 Measured values", "S2−1 Measured values", "S2−3 Measured values", "Allowable Stress"],
                "range": ["#515151", "#F14040", "#1A6FDF", "#37AD6B", "#B177DE", "#CC9900", "#00CBCC", "#7D4E4E", "#8E8E00"]},
              "legend": {"legendX": 838, "legendY": -22, "rowPadding": 10}},
            "strokeDash": {"field": "s", "type": "nominal",
              "scale": {"domain": ["R2−3 Simulation values", "R2−5 Simulation values", "S2−1 Simulation values", "S2−3 Simulation values", "R2−3 Measured values", "R2−5 Measured values", "S2−1 Measured values", "S2−3 Measured values", "Allowable Stress"],
                "range": [[12, 10], [12, 10], [12, 10], [12, 10], [1, 0], [1, 0], [1, 0], [1, 0], [1, 0]]},
              "legend": {"legendX": 838, "legendY": -22, "rowPadding": 10}}
          }
        },
        {
          "width": 732, "height": 587,
          "title": {"text": "(d)"},
          "layer": [
            {"data": {"name": "d"}, "mark": {"type": "line", "strokeWidth": 3.5, "interpolate": "monotone"}},
            {"data": {"name": "allow"}, "mark": {"type": "line", "strokeWidth": 3.5, "interpolate": "monotone"}}
          ],
          "encoding": {
            "x": {"field": "t", "type": "quantitative", "scale": {"domain": [0, 192], "nice": false},
              "axis": {"title": "Time/h", "values": [0, 12, 24, 36, 48, 60, 72, 84, 96, 108, 120, 132, 144, 156, 168, 180, 192],
                "labelExpr": "datum.value % 24 === 0 ? datum.label : ''",
                "tickSize": {"condition": {"test": "datum.value % 24 === 0", "value": 12}, "value": 6}}},
            "y": {"field": "v", "type": "quantitative", "scale": {"domain": [-0.5, 3.5], "nice": false, "zero": false},
              "axis": {"title": "Stress/MPa", "titlePadding": -15, "values": [-0.5, -0.25, 0, 0.25, 0.5, 0.75, 1, 1.25, 1.5, 1.75, 2, 2.25, 2.5, 2.75, 3, 3.25, 3.5],
                "labelExpr": "round(datum.value * 4) % 2 === 0 ? (datum.value < 0 ? '-' : '') + format(abs(datum.value), '.1f') : ''",
                "tickSize": {"condition": {"test": "round(datum.value * 4) % 2 === 0", "value": 12}, "value": 6}}},
            "color": {"field": "s", "type": "nominal",
              "scale": {"domain": ["S2−8 Simulation values", "R2−10 Simulation values", "S2−8 Measured values", "R2−10 Measured values", "Allowable Stress"],
                "range": ["#515151", "#F14040", "#1A6FDF", "#37AD6B", "#B177DE"]},
              "legend": {"legendX": 838, "legendY": -18, "rowPadding": 8.1}},
            "strokeDash": {"field": "s", "type": "nominal",
              "scale": {"domain": ["S2−8 Simulation values", "R2−10 Simulation values", "S2−8 Measured values", "R2−10 Measured values", "Allowable Stress"],
                "range": [[12, 10], [12, 10], [1, 0], [1, 0], [1, 0]]},
              "legend": {"legendX": 838, "legendY": -18, "rowPadding": 8.1}}
          }
        }
      ]
    },
    {
      "spacing": 94,
      "resolve": {"scale": {"color": "independent", "strokeDash": "independent"}, "legend": {"color": "independent", "strokeDash": "independent"}},
      "hconcat": [
        {
          "width": 711, "height": 579,
          "title": {"text": "(e)"},
          "layer": [
            {"data": {"name": "e"}, "mark": {"type": "line", "strokeWidth": 3.5, "interpolate": "monotone"}},
            {"data": {"name": "allow"}, "mark": {"type": "line", "strokeWidth": 3.5, "interpolate": "monotone"}}
          ],
          "encoding": {
            "x": {"field": "t", "type": "quantitative", "scale": {"domain": [0, 192], "nice": false},
              "axis": {"title": "Time/h", "values": [0, 12, 24, 36, 48, 60, 72, 84, 96, 108, 120, 132, 144, 156, 168, 180, 192],
                "labelExpr": "datum.value % 24 === 0 ? datum.label : ''",
                "tickSize": {"condition": {"test": "datum.value % 24 === 0", "value": 12}, "value": 6}}},
            "y": {"field": "v", "type": "quantitative", "scale": {"domain": [-2, 4], "nice": false, "zero": false},
              "axis": {"title": "Stress/MPa", "values": [-2, -1.75, -1.5, -1.25, -1, -0.75, -0.5, -0.25, 0, 0.25, 0.5, 0.75, 1, 1.25, 1.5, 1.75, 2, 2.25, 2.5, 2.75, 3, 3.25, 3.5, 3.75, 4],
                "labelExpr": "round(datum.value * 4) % 2 === 0 ? (datum.value < 0 ? '-' : '') + format(abs(datum.value), '.1f') : ''",
                "tickSize": {"condition": {"test": "round(datum.value * 4) % 2 === 0", "value": 12}, "value": 6}}},
            "color": {"field": "s", "type": "nominal",
              "scale": {"domain": ["R3−1 Simulation values", "S3−1 Simulation values", "R3−1 Measured values", "S3−1 Measured values", "Allowable Stress"],
                "range": ["#515151", "#F14040", "#1A6FDF", "#37AD6B", "#B177DE"]},
              "legend": {"legendX": 860, "legendY": -15.5, "rowPadding": 7.5}},
            "strokeDash": {"field": "s", "type": "nominal",
              "scale": {"domain": ["R3−1 Simulation values", "S3−1 Simulation values", "R3−1 Measured values", "S3−1 Measured values", "Allowable Stress"],
                "range": [[12, 10], [12, 10], [1, 0], [1, 0], [1, 0]]},
              "legend": {"legendX": 860, "legendY": -15.5, "rowPadding": 7.5}}
          }
        },
        {
          "width": 735, "height": 591,
          "title": {"text": "(f)"},
          "layer": [
            {"data": {"name": "f"}, "mark": {"type": "line", "strokeWidth": 3.5, "interpolate": "monotone"}},
            {"data": {"name": "allow"}, "mark": {"type": "line", "strokeWidth": 3.5, "interpolate": "monotone"}}
          ],
          "encoding": {
            "x": {"field": "t", "type": "quantitative", "scale": {"domain": [0, 192], "nice": false},
              "axis": {"title": "Time/h", "values": [0, 12, 24, 36, 48, 60, 72, 84, 96, 108, 120, 132, 144, 156, 168, 180, 192],
                "labelExpr": "datum.value % 24 === 0 ? datum.label : ''",
                "tickSize": {"condition": {"test": "datum.value % 24 === 0", "value": 12}, "value": 6}}},
            "y": {"field": "v", "type": "quantitative", "scale": {"domain": [-0.5, 3.5], "nice": false, "zero": false},
              "axis": {"title": "Stress/MPa", "titlePadding": -15, "values": [-0.5, -0.25, 0, 0.25, 0.5, 0.75, 1, 1.25, 1.5, 1.75, 2, 2.25, 2.5, 2.75, 3, 3.25, 3.5],
                "labelExpr": "round(datum.value * 4) % 2 === 0 ? (datum.value < 0 ? '-' : '') + format(abs(datum.value), '.1f') : ''",
                "tickSize": {"condition": {"test": "round(datum.value * 4) % 2 === 0", "value": 12}, "value": 6}}},
            "color": {"field": "s", "type": "nominal",
              "scale": {"domain": ["S3−6 Simulation values", "R3−6 Simulation values", "S3−6 Measured values", "R3−6 Measured values", "Allowable Stress"],
                "range": ["#515151", "#F14040", "#1A6FDF", "#37AD6B", "#B177DE"]},
              "legend": {"legendX": 861.5, "legendY": -9.5, "rowPadding": 9}},
            "strokeDash": {"field": "s", "type": "nominal",
              "scale": {"domain": ["S3−6 Simulation values", "R3−6 Simulation values", "S3−6 Measured values", "R3−6 Measured values", "Allowable Stress"],
                "range": [[1, 0], [1, 0], [12, 10], [12, 10], [1, 0]]},
              "legend": {"legendX": 861.5, "legendY": -9.5, "rowPadding": 9}}
          }
        }
      ]
    }
  ],
  "spacing": 41,
  "resolve": {"scale": {"color": "independent", "strokeDash": "independent"}, "legend": {"color": "independent", "strokeDash": "independent"}},
  "config": {
    "font": "Liberation Serif",
    "view": {"stroke": null},
    "axis": {
      "grid": false,
      "domainColor": "black", "domainWidth": 4,
      "tickColor": "black", "tickWidth": 3.5,
      "labelFont": "Liberation Serif", "labelFontWeight": "bold", "labelFontSize": 64, "labelColor": "black",
      "labelOverlap": false, "labelBound": false, "labelFlush": false,
      "titleFont": "Liberation Serif", "titleFontWeight": "bold", "titleColor": "black"
    },
    "axisX": {"labelAngle": -45, "labelAlign": "center", "labelBaseline": "middle", "labelPadding": 60, "titleFontSize": 70, "titlePadding": 18},
    "axisY": {"labelPadding": 8, "labelFontSize": 68, "titleFontSize": 69, "titlePadding": 7},
    "legend": {
      "orient": "none", "title": null, "padding": 0,
      "labelFont": "Liberation Serif", "labelFontWeight": "bold", "labelFontSize": 51, "labelColor": "black", "labelLimit": 0, "labelOffset": 34,
      "symbolType": "M-4,0L4,0", "symbolSize": 812, "symbolStrokeWidth": 3.5
    },
    "title": {"orient": "bottom", "anchor": "middle", "frame": "bounds", "font": "Liberation Serif", "fontSize": 76, "fontWeight": "normal", "color": "black", "offset": 66}
  }
}
